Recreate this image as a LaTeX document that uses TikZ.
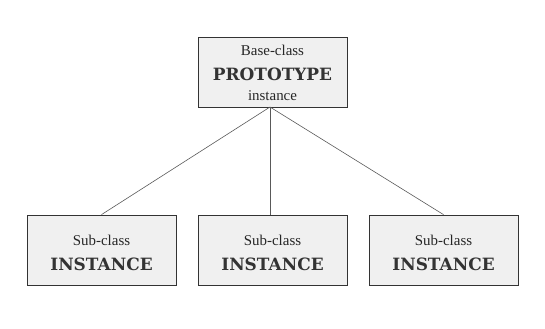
\documentclass[tikz,border=0pt]{standalone}
\usepackage{fontspec}
\setmainfont{Liberation Serif}
\newfontfamily\capsfont{DejaVu Serif}
\begin{document}
\begin{tikzpicture}[x=1bp,y=-1bp,
  classbox/.style={draw=black!80, fill=black!6, line width=0.8bp, minimum width=149bp, minimum height=70bp, inner sep=0pt, align=center},
  small/.style={font=\fontsize{15}{16}\selectfont, text=black!85},
  big/.style={font=\capsfont\bfseries\fontsize{17}{18}\selectfont, text=black!80},
  link/.style={draw=black!65, line width=0.6bp}]
\useasboundingbox (0,0) rectangle (545,328);
\node[classbox] (base) at (272.5,72) {};
\node[classbox] (s1) at (101.5,250) {};
\node[classbox] (s2) at (272.5,250) {};
\node[classbox] (s3) at (443.5,250) {};
\node[small] (bt1) at (272.5,50) {Base-class};
\node[big] (bt2) at (272.5,74) {PROTOTYPE};
\node[small] (bt3) at (272.5,96) {instance};
\node[small] (s1a) at (101.5,240) {Sub-class};
\node[big] (s1b) at (101.5,264) {INSTANCE};
\node[small] (s2a) at (272.5,240) {Sub-class};
\node[big] (s2b) at (272.5,264) {INSTANCE};
\node[small] (s3a) at (443.5,240) {Sub-class};
\node[big] (s3b) at (443.5,264) {INSTANCE};
\coordinate (hub) at (270,107);
\draw[link] (hub) -- (s1.north);
\draw[link] (hub) -- (s2.north -| hub);
\draw[link] (hub) -- (s3.north);
\end{tikzpicture}
\end{document}
